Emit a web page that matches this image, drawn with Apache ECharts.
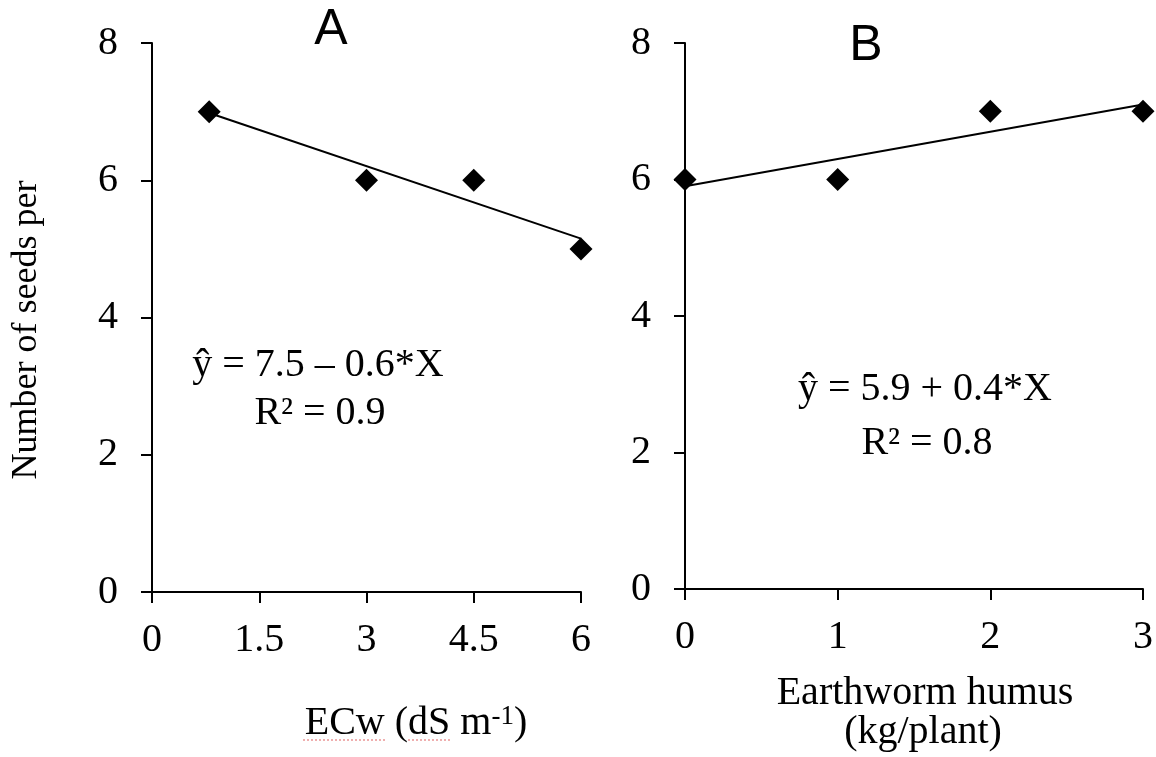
<!DOCTYPE html>
<html>
<head>
<meta charset="utf-8">
<script src="https://cdn.jsdelivr.net/npm/echarts@6/dist/echarts.min.js"></script>
<style>
html,body{margin:0;padding:0;background:#fff;}
#chart{width:1156px;height:757px;}
</style>
</head>
<body>
<div id="chart"></div>
<script>
// ---- data ----
const ecwX = [0.8, 3, 4.5, 6];          // panel A x values (ECw, dS m-1)
const seedsA = [7, 6, 6, 5];            // panel A seeds
const trendAX = [0.8, 6];               // panel A fitted line end points (x)
const trendAY = [6.98, 5.15];           // panel A fitted line end points (y)
const humusX = [0, 1, 2, 3];            // panel B x values (kg/plant)
const seedsB = [6, 6, 7, 7];            // panel B seeds
const trendBX = [0, 3];
const trendBY = [5.9, 7.1];
const yMin = 0, yMax = 8, yStep = 2;
const xAMin = 0, xAMax = 6, xAStep = 1.5;
const xBMin = 0, xBMax = 3, xBStep = 1;
const titleA = 'A', titleB = 'B';
const yName = 'Number of seeds per';
const eqA = 'ŷ = 7.5 – 0.6*X', r2A = 'R² = 0.9';
const eqB = 'ŷ = 5.9 + 0.4*X', r2B = 'R² = 0.8';
const xNameB1 = 'Earthworm humus', xNameB2 = '(kg/plant)';

const SERIF = "'Liberation Serif','Times New Roman',serif";
const SANS = "'Liberation Sans',Arial,sans-serif";
const zip = (a, b) => a.map((v, i) => [v, b[i]]);

function xAxis(idx, min, max, step) {
  return {
    type: 'value', gridIndex: idx, min: min, max: max, interval: step,
    axisLine: {show: true, onZero: false, lineStyle: {color: '#000', width: 2}},
    axisTick: {show: true, inside: false, length: 11, lineStyle: {color: '#000', width: 2}},
    axisLabel: {color: '#000', fontFamily: SERIF, fontSize: 40, margin: 28,
      formatter: v => String(v)},
    splitLine: {show: false}
  };
}
function yAxis(idx) {
  return {
    type: 'value', gridIndex: idx, min: yMin, max: yMax, interval: yStep,
    axisLine: {show: true, onZero: false, lineStyle: {color: '#000', width: 2}},
    axisTick: {show: true, inside: false, length: 11, lineStyle: {color: '#000', width: 2}},
    axisLabel: {color: '#000', fontFamily: SERIF, fontSize: 40, margin: 34},
    splitLine: {show: false}
  };
}
function txt(x, y, text, size, family, extra) {
  return Object.assign({
    type: 'text', x: x, y: y, silent: true,
    style: {text: text, fill: '#000', font: size + 'px ' + family,
      align: 'center', verticalAlign: 'middle'}
  }, extra || {});
}

const chart = echarts.init(document.getElementById('chart'), null, {renderer: 'canvas'});
chart.setOption({
  backgroundColor: '#fff',
  animation: false,
  grid: [
    {left: 152, right: 575, top: 43, bottom: 165},
    {left: 685, right: 11, top: 43, bottom: 168}
  ],
  xAxis: [xAxis(0, xAMin, xAMax, xAStep), xAxis(1, xBMin, xBMax, xBStep)],
  yAxis: [yAxis(0), yAxis(1)],
  series: [
    {type: 'line', xAxisIndex: 0, yAxisIndex: 0, data: zip(trendAX, trendAY),
      symbol: 'none', lineStyle: {color: '#000', width: 2}, z: 2},
    {type: 'scatter', xAxisIndex: 0, yAxisIndex: 0, data: zip(ecwX, seedsA),
      symbol: 'diamond', symbolSize: 23, itemStyle: {color: '#000', opacity: 1}, z: 3},
    {type: 'line', xAxisIndex: 1, yAxisIndex: 1, data: zip(trendBX, trendBY),
      symbol: 'none', lineStyle: {color: '#000', width: 2}, z: 2},
    {type: 'scatter', xAxisIndex: 1, yAxisIndex: 1, data: zip(humusX, seedsB),
      symbol: 'diamond', symbolSize: 23, itemStyle: {color: '#000', opacity: 1}, z: 3}
  ],
  graphic: [
    txt(331, 30, titleA, 50, SANS),
    txt(866, 46, titleB, 50, SANS),
    txt(27, 330, yName, 36, SERIF, {rotation: Math.PI / 2}),
    txt(318, 365, eqA, 40, SERIF),
    txt(320, 413, r2A, 40, SERIF),
    txt(925, 389, eqB, 40, SERIF),
    txt(927, 443, r2B, 40, SERIF),
    {
      type: 'text', x: 416, y: 723, silent: true,
      style: {
        text: '{n|ECw (dS m}{s|-1}{n|)}',
        align: 'center', verticalAlign: 'middle',
        rich: {
          n: {fontFamily: SERIF, fontSize: 40, fill: '#000', lineHeight: 44},
          s: {fontFamily: SERIF, fontSize: 27, fill: '#000', verticalAlign: 'top', lineHeight: 27, padding: [2, 0, 0, 0]}
        }
      }
    },
    {type: 'polyline', silent: true, shape: {points: [[303, 740], [386, 740]]},
      style: {stroke: '#e06060', lineWidth: 1, lineDash: [2, 2]}},
    {type: 'polyline', silent: true, shape: {points: [[408, 740], [452, 740]]},
      style: {stroke: '#e06060', lineWidth: 1, lineDash: [2, 2]}},
    txt(925, 693, xNameB1, 40, SERIF),
    txt(923, 732, xNameB2, 40, SERIF)
  ]
});
</script>
</body>
</html>
